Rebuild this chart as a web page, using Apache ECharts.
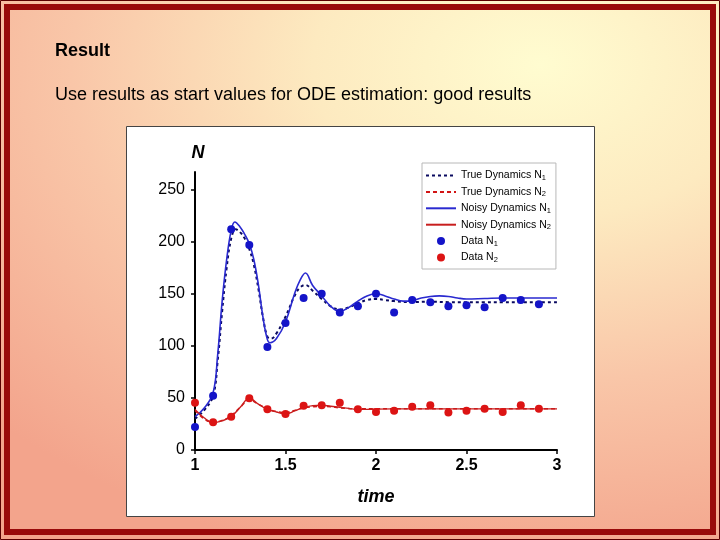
<!DOCTYPE html>
<html>
<head>
<meta charset="utf-8">
<script src="https://cdn.jsdelivr.net/npm/echarts@6/dist/echarts.min.js"></script>
<style>
  html, body { margin: 0; padding: 0; }
  #bg {
    width: 720px; height: 540px;
    background: radial-gradient(ellipse 105% 95% at 75% 12%, #fffcd0 0%, #fdeac0 30%, #f9c6a8 62%, #f3a48c 100%);
  }
  #chart { width: 720px; height: 540px; }
</style>
</head>
<body>
<div id="bg"><div id="chart"></div></div>
<script>
// ---- data ----
const xTickValues = [1, 1.5, 2, 2.5, 3];
const yTickValues = [0, 50, 100, 150, 200, 250];

const dataTimes = [1.0, 1.1, 1.2, 1.3, 1.4, 1.5, 1.6, 1.7, 1.8, 1.9, 2.0, 2.1, 2.2, 2.3, 2.4, 2.5, 2.6, 2.7, 2.8, 2.9];
const dataN1 = [22, 52, 212, 197, 99, 122, 146, 150, 132, 138, 150, 132, 144, 142, 138, 139, 137, 146, 144, 140];
const dataN2 = [45.5, 26.6, 32, 49.7, 39.1, 34.6, 42.6, 43, 45.5, 39.1, 36.5, 37.8, 41.6, 43, 35.9, 37.8, 39.7, 36.5, 43, 39.7];

const noisyN1 = [[1.00,32],[1.05,40],[1.10,55],[1.125,91],[1.15,143],[1.175,183],[1.20,211],[1.22,219],[1.25,214],[1.275,207],[1.30,198],[1.325,183],[1.35,159],[1.375,128],[1.40,106],[1.415,103],[1.45,107],[1.50,123],[1.55,150],[1.58,163],[1.61,170],[1.65,158],[1.70,148],[1.75,138],[1.80,133],[1.85,137],[1.90,143],[1.95,148],[2.00,150],[2.05,148],[2.10,145],[2.15,143],[2.20,143.5],[2.25,146],[2.30,147.5],[2.35,148],[2.40,147.5],[2.45,146],[2.50,145],[2.60,145.5],[2.70,146],[2.80,146],[2.90,146],[3.00,146]];
const trueN1 = [[1.00,30],[1.05,38],[1.10,52],[1.125,85],[1.15,133],[1.175,175],[1.20,203],[1.225,212],[1.25,209],[1.275,203],[1.30,193],[1.325,178],[1.35,155],[1.375,128],[1.40,109],[1.42,107],[1.45,112],[1.50,128],[1.55,148],[1.58,156],[1.61,158.5],[1.65,153],[1.70,145],[1.75,138],[1.80,135],[1.85,137],[1.90,141],[1.95,144],[2.00,145],[2.05,144],[2.10,143],[2.20,142],[2.30,142.5],[2.40,142],[2.50,142],[2.60,142],[2.70,142],[2.80,142],[2.90,142],[3.00,142]];
const noisyN2 = [[1.00,39],[1.05,31],[1.10,26.5],[1.15,28],[1.20,32],[1.25,41],[1.30,49.7],[1.35,44],[1.40,39],[1.45,36.5],[1.50,34.6],[1.55,37.5],[1.60,41],[1.65,42.5],[1.70,43],[1.75,42],[1.80,41],[1.85,40],[1.90,39],[1.95,39],[2.00,39.3],[2.20,39.5],[2.40,39.5],[2.60,39.5],[2.80,39.5],[3.00,39.5]];
const trueN2 = [[1.00,38],[1.05,30],[1.10,26.5],[1.15,28.5],[1.20,33],[1.25,41],[1.30,48],[1.35,44],[1.40,39.5],[1.45,37],[1.50,36],[1.55,38],[1.60,40.5],[1.65,41.5],[1.70,42],[1.75,41.5],[1.80,40.5],[1.90,39.5],[2.00,39.5],[2.20,39.5],[2.40,39.5],[2.60,39.5],[2.80,39.5],[3.00,39.5]];

const seriesNames = ['True Dynamics N1', 'True Dynamics N2', 'Noisy Dynamics N1', 'Noisy Dynamics N2', 'Data N1', 'Data N2'];
const titleText = 'Result';
const subtitleText = 'Use results as start values for ODE estimation: good results';

// ---- chart ----
const chart = echarts.init(document.getElementById('chart'), null, { renderer: 'canvas' });
const FONT = 'Liberation Sans, Arial, sans-serif';

function pairs(xs, ys) { return xs.map((x, i) => [x, ys[i]]); }

const option = {
  backgroundColor: 'transparent',
  animation: false,
  textStyle: { fontFamily: FONT },
  graphic: [
    { type: 'rect', shape: { x: 0.5, y: 0.5, width: 719, height: 539 }, style: { fill: 'none', stroke: '#5a0000', lineWidth: 1 }, z: 10 },
    { type: 'rect', shape: { x: 7, y: 7, width: 706, height: 525 }, style: { fill: 'none', stroke: '#990a0a', lineWidth: 6 }, z: 10 },
    { type: 'rect', shape: { x: 126.5, y: 126.5, width: 468, height: 390 }, style: { fill: '#ffffff', stroke: '#444444', lineWidth: 1 }, z: -10 },
    { type: 'text', left: 55, top: 42, style: { text: titleText, font: 'bold 18px ' + FONT, fill: '#000' } },
    { type: 'text', left: 55, top: 86, style: { text: subtitleText, font: '18px ' + FONT, fill: '#000' } }
  ],
  grid: { left: 195, right: 163, top: 172, bottom: 90, containLabel: false },
  xAxis: {
    type: 'value', min: 1, max: 3, interval: 0.5,
    name: 'time', nameLocation: 'middle', nameGap: 38,
    nameTextStyle: { fontSize: 18, fontWeight: 'bold', fontStyle: 'italic', color: '#000', fontFamily: FONT },
    axisLine: { lineStyle: { color: '#000', width: 2 } },
    axisTick: { show: true, length: 4, lineStyle: { color: '#000', width: 1.5 }, customValues: xTickValues },
    axisLabel: { fontSize: 16, fontWeight: 'bold', color: '#000', margin: 8, customValues: xTickValues, fontFamily: FONT },
    splitLine: { show: false }
  },
  yAxis: {
    type: 'value', min: 0, max: 267, interval: 50,
    name: 'N', nameLocation: 'end', nameGap: 10,
    nameTextStyle: { fontSize: 18, fontWeight: 'bold', fontStyle: 'italic', color: '#000', fontFamily: FONT, padding: [0, 0, 0, 6] },
    axisLine: { lineStyle: { color: '#000', width: 2 } },
    axisTick: { show: true, length: 4, lineStyle: { color: '#000', width: 1.5 }, customValues: yTickValues },
    axisLabel: { fontSize: 16, color: '#000', margin: 10, customValues: yTickValues, fontFamily: FONT },
    splitLine: { show: false }
  },
  legend: {
    orient: 'vertical', left: 422, top: 163,
    backgroundColor: '#ffffff', borderColor: '#b8b8b8', borderWidth: 1,
    padding: [7, 5, 5, 3],
    itemWidth: 30, itemHeight: 8, itemGap: 4.4,
    data: [
      { name: seriesNames[0], itemStyle: { opacity: 0 } },
      { name: seriesNames[1], itemStyle: { opacity: 0 } },
      { name: seriesNames[2], itemStyle: { opacity: 0 } },
      { name: seriesNames[3], itemStyle: { opacity: 0 } },
      { name: seriesNames[4], icon: 'circle' },
      { name: seriesNames[5], icon: 'circle' }
    ],
    formatter: function (name) { return name.slice(0, -1) + '{sub|' + name.slice(-1) + '}'; },
    textStyle: {
      fontSize: 10.5, color: '#000', fontFamily: FONT, padding: [0, 0, 0, 0],
      rich: { sub: { fontSize: 7.5, verticalAlign: 'bottom', padding: [5, 0, 0, 0], fontFamily: FONT } }
    }
  },
  series: [
    { name: seriesNames[0], type: 'line', data: trueN1, smooth: 0.4, symbol: 'none', z: 3,
      lineStyle: { color: '#0a0a60', width: 2, type: [3, 3] }, itemStyle: { color: '#0a0a60' } },
    { name: seriesNames[1], type: 'line', data: trueN2, smooth: 0.4, symbol: 'none', z: 3,
      lineStyle: { color: '#d21414', width: 1.5, type: [4, 3] }, itemStyle: { color: '#d21414' } },
    { name: seriesNames[2], type: 'line', data: noisyN1, smooth: 0.4, symbol: 'none', z: 4,
      lineStyle: { color: '#2a2ad0', width: 1.6 }, itemStyle: { color: '#2a2ad0' } },
    { name: seriesNames[3], type: 'line', data: noisyN2, smooth: 0.4, symbol: 'none', z: 4,
      lineStyle: { color: '#c81e1e', width: 1.4 }, itemStyle: { color: '#c81e1e' } },
    { name: seriesNames[4], type: 'scatter', data: pairs(dataTimes, dataN1), symbol: 'circle', symbolSize: 8, z: 5,
      itemStyle: { color: '#1414c8', opacity: 1 } },
    { name: seriesNames[5], type: 'scatter', data: pairs(dataTimes, dataN2), symbol: 'circle', symbolSize: 8, z: 5,
      itemStyle: { color: '#dc1414', opacity: 1 } }
  ]
};
chart.setOption(option);
</script>
</body>
</html>
